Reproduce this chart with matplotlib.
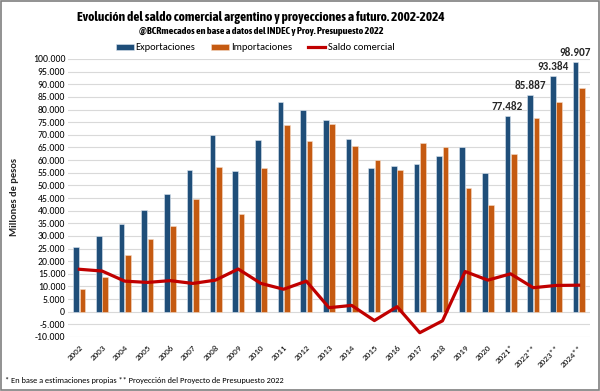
import matplotlib
matplotlib.use("Agg")
import matplotlib.pyplot as plt
from matplotlib import font_manager
import numpy as np
from matplotlib.patches import Rectangle

years = ["2002", "2003", "2004", "2005", "2006", "2007", "2008", "2009", "2010",
         "2011", "2012", "2013", "2014", "2015", "2016", "2017", "2018", "2019",
         "2020", "2021*", "2022**", "2023**", "2024**"]
exportaciones = [25500, 29800, 34600, 40300, 46500, 56000, 69900, 55700, 68000,
                 82900, 79800, 75700, 68200, 56700, 57800, 58400, 61600, 65100,
                 54900, 77482, 85887, 93384, 98907]
importaciones = [9000, 13700, 22400, 28600, 34000, 44700, 57400, 38700, 56700,
                 74000, 67700, 74400, 65600, 60000, 56000, 66900, 65300, 49100,
                 42300, 62400, 76500, 82900, 88400]
saldo = [16800, 16100, 12100, 11600, 12300, 11200, 12500, 16900, 11200,
         8900, 12100, 1600, 2500, -3500, 2000, -8300, -3600, 15900,
         12500, 15000, 9500, 10400, 10500]
etiquetas = {19: "77.482", 20: "85.887", 21: "93.384", 22: "98.907"}

BLUE = "#1F4E79"
ORANGE = "#C55A11"
RED = "#C00000"

# pick a condensed/narrow bold font if one is installed
narrow = None
for f in font_manager.fontManager.ttflist:
    n = f.name
    if ("Narrow" in n or "Condensed" in n) and f.weight in ("bold", 700, "heavy"):
        narrow = n
        break
if narrow is None:
    for f in font_manager.fontManager.ttflist:
        if "Narrow" in f.name or "Condensed" in f.name or f.stretch == "condensed":
            narrow = f.name
            break
if narrow is not None:
    NARROW = [narrow, "DejaVu Sans"]
    TSIZE, SSIZE = 9.6, 7.3
else:
    NARROW = ["Liberation Sans", "DejaVu Sans"]
    TSIZE, SSIZE = 8.6, 6.6
BODY = ["Carlito", "Lato", "DejaVu Sans"]

fig = plt.figure(figsize=(6.0, 3.91), dpi=100)
fig.patch.set_facecolor("white")
fig.add_artist(Rectangle((0.002, 0.003), 0.996, 0.994, transform=fig.transFigure,
                         fill=False, edgecolor="#7F7F7F", linewidth=1.2))

W, H = 600, 391
ax = fig.add_axes([68 / W, 1 - 337 / H, (590 - 68) / W, (337 - 59) / H])

x = np.arange(len(years))
bw = 0.25
b1 = ax.bar(x - 0.14, exportaciones, width=bw, color=BLUE, edgecolor="#DDE6F0",
            linewidth=0.4, label="Exportaciones", zorder=2)
b2 = ax.bar(x + 0.14, importaciones, width=bw, color=ORANGE, edgecolor="#F5DCC8",
            linewidth=0.4, label="Importaciones", zorder=2)
l1, = ax.plot(x, saldo, color=RED, linewidth=2.3, label="Saldo comercial", zorder=3,
              solid_joinstyle="round")

for i, t in etiquetas.items():
    ax.annotate(t, (x[i] - 0.14, exportaciones[i]), xytext=(0, 3),
                textcoords="offset points", ha="center", va="bottom",
                fontsize=8, fontweight="bold", family=BODY, color="#262626",
                annotation_clip=False)

ax.set_xlim(-0.5, len(years) - 0.5)
ax.set_ylim(-10000, 100000)
ax.set_yticks(np.arange(-10000, 100001, 5000))
ax.set_yticklabels([f"{v:,}".replace(",", ".") for v in range(-10000, 100001, 5000)],
                   fontsize=7, family=BODY)
ax.set_xticks(x)
ax.set_xticklabels(years, rotation=45, ha="right", rotation_mode="anchor",
                   fontsize=6.5, family=BODY)
ax.tick_params(axis="both", length=0, pad=2)
ax.tick_params(axis="x", pad=5)
ax.grid(axis="y", color="#D9D9D9", linewidth=0.8, zorder=0)
ax.set_axisbelow(True)
for s in ax.spines.values():
    s.set_visible(False)

fig.text(15 / W, 1 - 197 / H, "Millones de pesos", rotation=90, ha="center",
         va="center", fontsize=7.5, family=BODY, fontweight="bold", color="#262626")

fig.text(261 / W, 1 - 17 / H,
         "Evolución del saldo comercial argentino y proyecciones a futuro. 2002-2024",
         ha="center", va="center", fontsize=TSIZE, fontweight="bold", family=NARROW)
fig.text(261 / W, 1 - 31 / H,
         "@BCRmecados en base a datos del INDEC y Proy. Presupuesto 2022",
         ha="center", va="center", fontsize=SSIZE, fontweight="bold", family=NARROW)

fig.legend([b1, b2, l1], ["Exportaciones", "Importaciones", "Saldo comercial"],
           loc="center", bbox_to_anchor=(255 / W, 1 - 48 / H), ncol=3,
           frameon=False, prop={"family": BODY, "size": 7.5},
           handlelength=1.7, handleheight=0.6, handletextpad=0.2,
           columnspacing=1.5)

fig.text(5 / W, 1 - 381 / H,
         "* En base a estimaciones propias ** Proyección del Proyecto de Presupuesto 2022",
         ha="left", va="center", fontsize=6, family=BODY)

fig.savefig("out.png", dpi=100)
